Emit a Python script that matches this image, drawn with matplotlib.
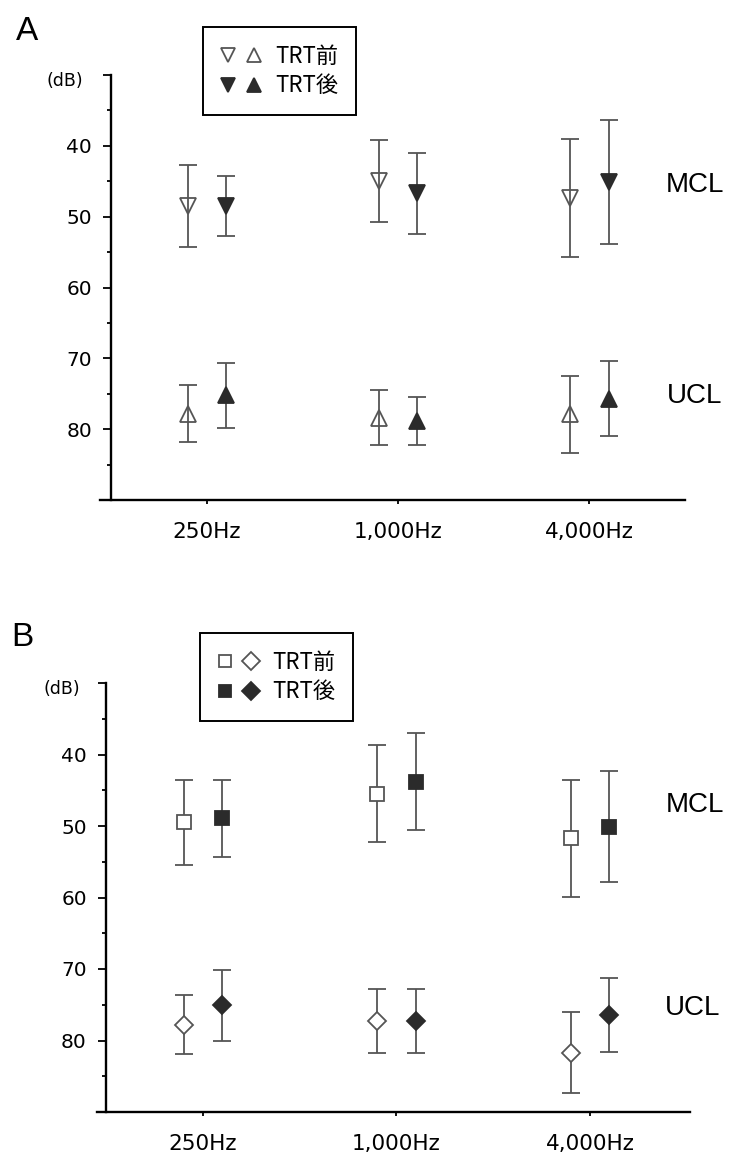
import matplotlib
matplotlib.use('Agg')
import numpy as np
import matplotlib.pyplot as plt
from matplotlib.lines import Line2D
from matplotlib.legend_handler import HandlerTuple

# ======
# Data (dB, mean and SD)
# ======
freqs = ['250Hz', '1,000Hz', '4,000Hz']

a_mcl_pre_mean = [48.5, 45.0, 47.4]
a_mcl_pre_sd = [5.8, 5.8, 8.3]
a_mcl_post_mean = [48.5, 46.7, 45.1]
a_mcl_post_sd = [4.3, 5.7, 8.8]
a_ucl_pre_mean = [77.8, 78.4, 77.9]
a_ucl_pre_sd = [4.0, 3.9, 5.4]
a_ucl_post_mean = [75.2, 78.9, 75.7]
a_ucl_post_sd = [4.6, 3.4, 5.3]

b_mcl_pre_mean = [49.5, 45.5, 51.7]
b_mcl_pre_sd = [5.9, 6.8, 8.2]
b_mcl_post_mean = [48.9, 43.8, 50.1]
b_mcl_post_sd = [5.4, 6.8, 7.8]
b_ucl_pre_mean = [77.8, 77.3, 81.7]
b_ucl_pre_sd = [4.1, 4.5, 5.7]
b_ucl_post_mean = [75.1, 77.3, 76.4]
b_ucl_post_sd = [4.9, 4.5, 5.2]

legend_labels = ['TRT前', 'TRT後']

GRAY = '#555555'
DARK = '#2b2b2b'
CJK = ['Noto Sans CJK JP', 'DejaVu Sans']


def draw_group(ax, xs, mean, sd, marker, filled, ms, open_face):
    ax.errorbar(xs, mean, yerr=sd, fmt='none', ecolor=GRAY, elinewidth=1.3,
                capsize=6.5, capthick=1.3, zorder=2)
    ax.plot(xs, mean, ls='none', marker=marker, ms=ms,
            mfc=DARK if filled else open_face,
            mec=DARK if filled else GRAY, mew=1.3, zorder=3)


def setup_axes(ax, xlim):
    x = np.arange(len(freqs))
    ax.set_xlim(*xlim)
    ax.set_ylim(90, 30)
    for side in ['top', 'right']:
        ax.spines[side].set_visible(False)
    ax.spines['left'].set_position(('data', -0.5))
    ax.spines['left'].set_linewidth(1.7)
    ax.spines['bottom'].set_linewidth(1.7)
    ax.set_yticks([30, 40, 50, 60, 70, 80])
    ax.set_yticklabels(['', '40', '50', '60', '70', '80'])
    ax.set_yticks([35, 45, 55, 65, 75, 85], minor=True)
    ax.tick_params(axis='y', which='major', length=6, width=1.3, pad=8, labelsize=14.5)
    ax.tick_params(axis='y', which='minor', length=3, width=1.3)
    ax.set_xticks(x)
    ax.set_xticklabels(freqs)
    ax.tick_params(axis='x', length=3, width=1.3, pad=13, labelsize=15.5)
    ax.annotate('(dB)', xy=(0, 1), xycoords='axes fraction', xytext=(-12, -4),
                textcoords='offset points', ha='right', va='center', fontsize=12.5)


def add_legend(ax, handles, anchor):
    leg = ax.legend(handles=handles, labels=legend_labels,
                    handler_map={tuple: HandlerTuple(ndivide=None, pad=0.51)},
                    loc='upper left', bbox_to_anchor=anchor, borderaxespad=0,
                    frameon=True, fancybox=False, edgecolor='black', framealpha=1,
                    prop={'family': CJK, 'size': 16},
                    handlelength=1.83, handletextpad=0.62, borderpad=0.8,
                    labelspacing=0.3)
    leg.get_frame().set_linewidth(1.4)
    return leg


def proxy(marker, filled, ms, open_face):
    return Line2D([], [], ls='none', marker=marker, ms=ms,
                  mfc=DARK if filled else open_face,
                  mec=DARK if filled else GRAY, mew=1.3)


def main():
    fig = plt.figure(figsize=(7.34, 11.57), dpi=100)
    x = np.arange(len(freqs))
    off = 0.1

    # ======
    # Panel A
    # ======
    ax = fig.add_axes([100 / 734, 1 - 500 / 1157, 585 / 734, 425 / 1157])
    setup_axes(ax, (-0.56, 2.5))
    draw_group(ax, x - off, a_mcl_pre_mean, a_mcl_pre_sd, 'v', False, 12, 'none')
    draw_group(ax, x + off, a_mcl_post_mean, a_mcl_post_sd, 'v', True, 12, 'none')
    draw_group(ax, x - off, a_ucl_pre_mean, a_ucl_pre_sd, '^', False, 12, 'none')
    draw_group(ax, x + off, a_ucl_post_mean, a_ucl_post_sd, '^', True, 12, 'none')
    ax.text(2.55, 45.5, 'MCL', ha='center', va='center', fontsize=20,
            family='Liberation Sans', clip_on=False)
    ax.text(2.55, 75.3, 'UCL', ha='center', va='center', fontsize=20,
            family='Liberation Sans', clip_on=False)
    add_legend(ax, [(proxy('v', False, 10.5, 'none'), proxy('^', False, 10.5, 'none')),
                    (proxy('v', True, 10.5, 'none'), proxy('^', True, 10.5, 'none'))],
               (0.176, 1.113))
    fig.text(27 / 734, 1 - 31 / 1157, 'A', ha='center', va='center', fontsize=24,
             family='Liberation Sans')

    # ======
    # Panel B
    # ======
    ax = fig.add_axes([97 / 734, 1 - 1112 / 1157, 593 / 734, 429 / 1157])
    setup_axes(ax, (-0.548, 2.517))
    draw_group(ax, x - off, b_mcl_pre_mean, b_mcl_pre_sd, 's', False, 9.5, 'white')
    draw_group(ax, x + off, b_mcl_post_mean, b_mcl_post_sd, 's', True, 9.5, 'white')
    draw_group(ax, x - off, b_ucl_pre_mean, b_ucl_pre_sd, 'D', False, 9.2, 'white')
    draw_group(ax, x + off, b_ucl_post_mean, b_ucl_post_sd, 'D', True, 9.2, 'white')
    ax.text(2.54, 47.0, 'MCL', ha='center', va='center', fontsize=20,
            family='Liberation Sans', clip_on=False)
    ax.text(2.53, 75.5, 'UCL', ha='center', va='center', fontsize=20,
            family='Liberation Sans', clip_on=False)
    add_legend(ax, [(proxy('s', False, 9, 'white'), proxy('D', False, 9, 'white')),
                    (proxy('s', True, 9, 'white'), proxy('D', True, 9, 'white'))],
               (0.174, 1.1166))
    fig.text(22 / 734, 1 - 637 / 1157, 'B', ha='center', va='center', fontsize=24,
             family='Liberation Sans')

    fig.savefig('out.png', dpi=100)
    plt.close(fig)


if __name__ == '__main__':
    main()
